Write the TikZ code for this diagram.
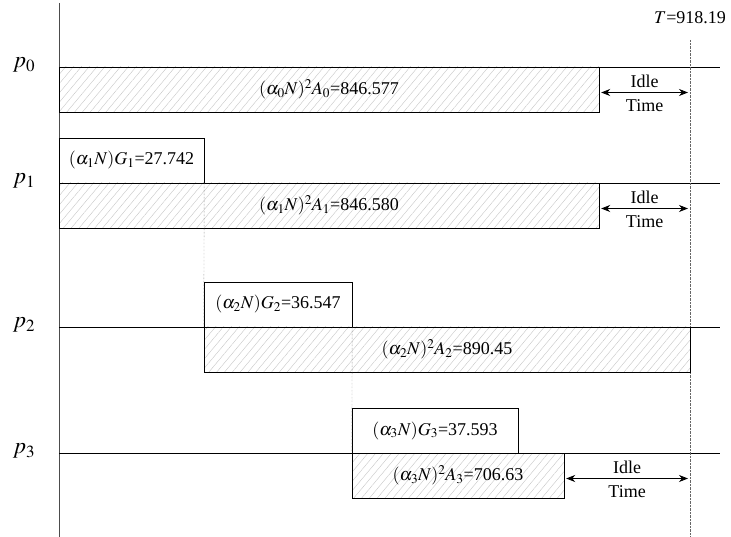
\documentclass[tikz,border=0pt]{standalone}
\usepackage{mathptmx}
\usepackage{fontspec}
\setmainfont{Liberation Serif}
\usepackage{tikz}
\usetikzlibrary{patterns.meta,arrows.meta}

\begin{document}
\begin{tikzpicture}[
		x=1pt, y=-1pt,
		every node/.style={font=\fontsize{18}{20}\selectfont, inner sep=1pt},
		gbox/.style={rectangle, draw, minimum height=45pt},
		abox/.style={rectangle, draw, minimum height=45pt,
			pattern={Lines[angle=50, distance=6pt, line width=0.4pt]}, pattern color=gray!45},
		plabel/.style={font=\fontsize{23}{25}\selectfont},
		idle/.style={{Stealth[length=9pt,width=7pt]}-{Stealth[length=9pt,width=7pt]}, thick, shorten <=2pt, shorten >=2pt}
	]
  \useasboundingbox (0,0) rectangle (731,537);
  % axis and processor lines
  \coordinate (ax_top) at (59,3);
  \coordinate (ax_bot) at (59,537);
  \draw[black!70] (ax_top) -- (ax_bot);
  \foreach \i/\y in {0/67, 1/183, 2/327, 3/453} {
    \coordinate (l_\i) at (59,\y);
    \coordinate (r_\i) at (720,\y);
    \node (p_\i) [plabel] at (24,\y-2) {$p_{\i}$};
    \draw (l_\i) -- (r_\i);
  }
  % deadline
  \node (T_label) at (690,18) {$T$=918.19};
  \coordinate (t_top) at (690,40);
  \coordinate (t_bot) at (690,537);
  \draw[densely dotted, black!60] (t_top) -- (t_bot);
  % tasks
  \node (a_0) [abox, minimum width=540pt] at (329,89.5) {$(\alpha_0N)^2A_0$=846.577};
  \node (g_1) [gbox, minimum width=145pt] at (131.5,160.5) {$(\alpha_1N)G_1$=27.742};
  \node (a_1) [abox, minimum width=540pt] at (329,205.5) {$(\alpha_1N)^2A_1$=846.580};
  \node (g_2) [gbox, minimum width=148pt] at (278,304.5) {$(\alpha_2N)G_2$=36.547};
  \node (a_2) [abox, minimum width=486pt] at (447,349.5) {$(\alpha_2N)^2A_2$=890.45};
  \node (g_3) [gbox, minimum width=166pt] at (435,430.5) {$(\alpha_3N)G_3$=37.593};
  \node (a_3) [abox, minimum width=212pt] at (458,475.5) {$(\alpha_3N)^2A_3$=706.63};
  \draw[densely dotted, black!60] (g_1.south east) -- (a_2.north west);
  \draw[densely dotted, black!60] (g_2.south east) -- (a_3.north west);
  % idle times
  \foreach \i in {0,1,3} {
    \draw[idle] ([yshift=-3pt]a_\i.east) -- ([yshift=-3pt]a_\i.east -| t_top)
      node[midway, above=3pt] {Idle}
      node[midway, below=6pt] {Time};
  }
\end{tikzpicture}
\end{document}
